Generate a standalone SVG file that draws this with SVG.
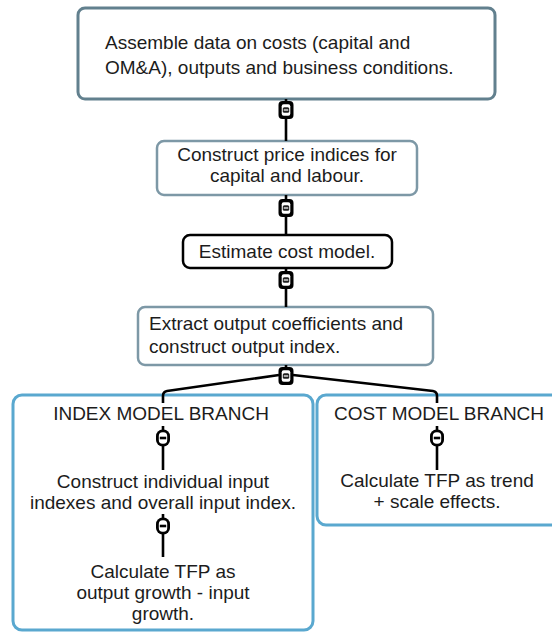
<svg xmlns="http://www.w3.org/2000/svg" width="552" height="633" viewBox="0 0 552 633">
<defs>
<style>
.t{font-family:"Liberation Sans",Arial,sans-serif;font-size:19px;fill:#1c1c1c}
.c{text-anchor:middle}
.box1{fill:#fff;stroke:#62808e;stroke-width:3}
.box2{fill:#fff;stroke:#7d98a6;stroke-width:2.5}
.box3{fill:#fff;stroke:#000;stroke-width:2.5}
.br{fill:#fff;stroke:#5aa8cf;stroke-width:3}
.ln{fill:none;stroke:#000;stroke-width:2.6}
</style>
<g id="sym">
<rect x="-7.5" y="-9" width="15" height="18" rx="4" fill="#000"/>
<rect x="-4.3" y="-5.8" width="8.6" height="11.6" rx="2" fill="#fff"/>
<rect x="-3.2" y="-2.7" width="6.4" height="5.4" rx="1.5" fill="#222"/>
<rect x="-2.2" y="-0.6" width="4.4" height="1.2" fill="#fff"/>
</g>
<g id="sym2">
<rect x="-7" y="-8.5" width="14" height="17" rx="6.5" fill="#000"/>
<rect x="-4.2" y="-5.7" width="8.4" height="11.4" rx="3.8" fill="#fff"/>
<rect x="-3.2" y="-1.3" width="6.4" height="2.6" fill="#000"/>
</g>
</defs>
<rect width="552" height="633" fill="#fff"/>
<g id="n1">
<rect class="box1" x="78" y="8" width="417" height="91" rx="7"/>
<text class="t" x="105" y="49">Assemble data on costs (capital and</text>
<text class="t" x="105" y="74">OM&amp;A), outputs and business conditions.</text>
</g>
<g id="n2">
<rect class="box2" x="157" y="141" width="260" height="54" rx="7"/>
<text class="t c" x="287" y="161">Construct price indices for</text>
<text class="t c" x="287" y="182">capital and labour.</text>
</g>
<g id="n3">
<rect class="box3" x="183" y="235" width="209" height="33" rx="7"/>
<text class="t c" x="287" y="258">Estimate cost model.</text>
</g>
<g id="n4">
<rect class="box2" x="138" y="307" width="295" height="58" rx="7"/>
<text class="t" x="149" y="330">Extract output coefficients and</text>
<text class="t" x="149" y="353">construct output index.</text>
</g>
<g id="index-branch">
<rect class="br" x="13" y="395" width="300" height="235" rx="9"/>
<text class="t c" x="161" y="420">INDEX MODEL BRANCH</text>
<text class="t c" x="163" y="488">Construct individual input</text>
<text class="t c" x="163" y="509">indexes and overall input index.</text>
<text class="t c" x="163" y="578">Calculate TFP as</text>
<text class="t c" x="163" y="599">output growth - input</text>
<text class="t c" x="163" y="620">growth.</text>
</g>
<g id="cost-branch">
<rect class="br" x="317" y="395" width="245" height="130" rx="9"/>
<text class="t c" x="439" y="420">COST MODEL BRANCH</text>
<text class="t c" x="437" y="487">Calculate TFP as trend</text>
<text class="t c" x="437" y="508">+ scale effects.</text>
</g>
<g id="connectors">
<line class="ln" x1="286" y1="99" x2="286" y2="141"/>
<line class="ln" x1="286" y1="195" x2="286" y2="235"/>
<line class="ln" x1="286" y1="268" x2="286" y2="307"/>
<line class="ln" x1="286" y1="365" x2="286" y2="375"/>
<path class="ln" d="M279 375 L167 391 Q163 391.6 163 396 L163 403"/>
<path class="ln" d="M293 375 L433 391 Q437 391.6 437 396 L437 403"/>
<line class="ln" x1="163" y1="426" x2="163" y2="470"/>
<line class="ln" x1="163" y1="514" x2="163" y2="557"/>
<line class="ln" x1="437" y1="426" x2="437" y2="470"/>
<use href="#sym" x="286" y="110"/>
<use href="#sym" x="286" y="208"/>
<use href="#sym" x="286" y="280"/>
<use href="#sym" x="286" y="376"/>
<use href="#sym2" x="163" y="438"/>
<use href="#sym2" x="163" y="526"/>
<use href="#sym2" x="437" y="438"/>
</g>
</svg>
